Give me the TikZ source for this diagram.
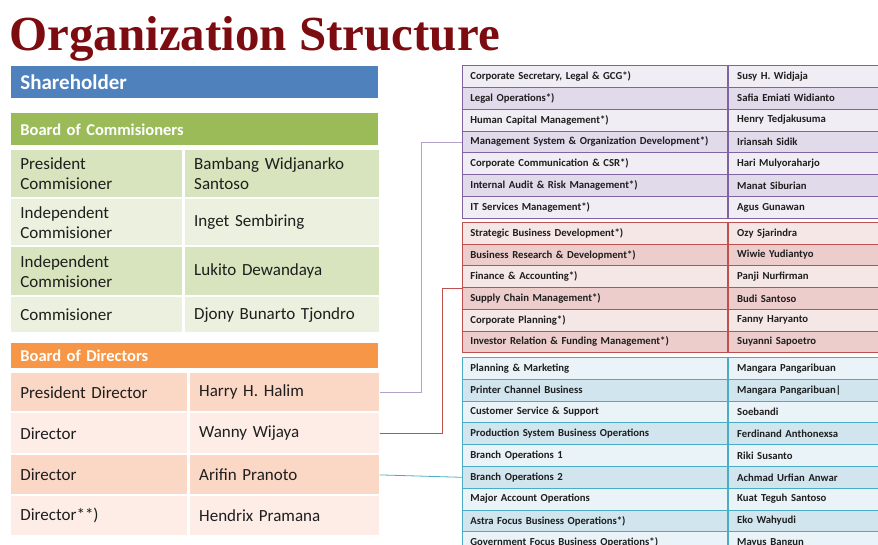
\documentclass[tikz,border=0pt]{standalone}
\usepackage{fontspec}
\setmainfont{Carlito}
\newfontfamily\titlefont{Liberation Serif}
\usetikzlibrary{positioning}

\definecolor{titlered}{RGB}{125,12,16}
\definecolor{shblue}{RGB}{79,129,189}
\definecolor{bocgreen}{RGB}{155,187,89}
\definecolor{bodorange}{RGB}{247,150,70}
\definecolor{grA}{RGB}{215,228,189}
\definecolor{grB}{RGB}{235,241,222}
\definecolor{orA}{RGB}{251,215,197}
\definecolor{orB}{RGB}{253,237,230}
\definecolor{puLine}{RGB}{128,100,162}
\definecolor{puA}{RGB}{240,237,245}
\definecolor{puB}{RGB}{224,218,234}
\definecolor{reLine}{RGB}{192,80,77}
\definecolor{reA}{RGB}{246,231,231}
\definecolor{reB}{RGB}{236,205,204}
\definecolor{blLine}{RGB}{75,172,198}
\definecolor{blA}{RGB}{234,243,247}
\definecolor{blB}{RGB}{208,229,238}
\definecolor{txtdark}{RGB}{30,30,30}

\tikzset{
  bar/.style={anchor=north west, minimum height=#1, inner xsep=9pt, inner ysep=0pt, align=left},
  rowtxt/.style={text=txtdark, font=\fontsize{17}{20}\selectfont},
  unitbox/.style={anchor=north west, minimum height=#1, inner xsep=8pt, inner ysep=0pt,
    text width=249pt, align=left, text=txtdark, font=\bfseries\fontsize{10.7}{12}\selectfont},
  headbox/.style={minimum height=#1, inner xsep=9pt, inner ysep=0pt,
    text width=135pt, align=left, text=txtdark, font=\bfseries\fontsize{10.7}{12}\selectfont},
}

\begin{document}
\begin{tikzpicture}[x=1pt, y=-1pt, line width=0.8pt]
\useasboundingbox (0,0) rectangle (878,544);
\clip (0,0) rectangle (878,544);

\node[anchor=base west, inner sep=0pt, text=titlered,
  font=\titlefont\bfseries\fontsize{49}{51}\selectfont] (title) at (9,50) {Organization Structure};

% shareholder and commisioners
\node[bar=32pt, fill=shblue, text width=349pt, text=white,
  font=\bfseries\fontsize{21}{24}\selectfont] (share) at (11,66) {Shareholder};
\node[bar=32pt, fill=bocgreen, text width=349pt, text=white,
  font=\bfseries\fontsize{16.5}{20}\selectfont] (boc) at (11,113) {Board of Commisioners};

\foreach \y/\h/\fc/\role/\who [count=\i] in {
  150/47/grA/{President\\Commisioner}/{Bambang Widjanarko\\Santoso},
  199/46/grB/{Independent\\Commisioner}/{Inget Sembiring},
  247/48/grA/{Independent\\Commisioner}/{Lukito Dewandaya},
  297/35/grB/{Commisioner}/{Djony Bunarto Tjondro}}{
  \node[bar=\h pt, rowtxt, fill=\fc, text width=153pt] (com\i) at (11,\y) {\role};
  \node[bar=\h pt, rowtxt, fill=\fc, text width=176pt, right=2pt of com\i] (comn\i) {\who};
}

% directors
\node[bar=25pt, fill=bodorange, text width=349pt, text=white,
  font=\bfseries\fontsize{16.5}{20}\selectfont] (bod) at (11,343) {Board of Directors};

\foreach \y/\h/\fc/\role/\who [count=\i] in {
  373/38/orA/{President Director}/{Harry H. Halim},
  413/40/orB/{Director}/{Wanny Wijaya},
  455/39/orA/{Director}/{Arifin Pranoto},
  496/39/orB/{Director**)}/{Hendrix Pramana}}{
  \node[bar=\h pt, rowtxt, fill=\fc, text width=158pt] (dir\i) at (11,\y) {\role};
  \node[bar=\h pt, rowtxt, fill=\fc, text width=171pt, right=2pt of dir\i] (dirn\i) {\who};
}

% first group
\foreach \unit/\who [count=\i] in {
  {Corporate Secretary, Legal \& GCG*)}/{Susy H. Widjaja},
  {Legal Operations*)}/{Safia Emiati Widianto},
  {Human Capital Management*)}/{Henry Tedjakusuma},
  {Management System \& Organization Development*)}/{Iriansah Sidik},
  {Corporate Communication \& CSR*)}/{Hari Mulyoraharjo},
  {Internal Audit \& Risk Management*)}/{Manat Siburian},
  {IT Services Management*)}/{Agus Gunawan}}{
  \ifodd\i \def\fc{puA}\else \def\fc{puB}\fi
  \node[unitbox=21.86pt, fill=\fc, draw=puLine] (pu\i) at (462,{65+(\i-1)*21.86}) {\unit};
  \node[headbox=21.86pt, fill=\fc, draw=puLine, right=0pt of pu\i] (puh\i) {\who};
}

% second group
\foreach \unit/\who [count=\i] in {
  {Strategic Business Development*)}/{Ozy Sjarindra},
  {Business Research \& Development*)}/{Wiwie Yudiantyo},
  {Finance \& Accounting*)}/{Panji Nurfirman},
  {Supply Chain Management*)}/{Budi Santoso},
  {Corporate Planning*)}/{Fanny Haryanto},
  {Investor Relation \& Funding Management*)}/{Suyanni Sapoetro}}{
  \ifodd\i \def\fc{reA}\else \def\fc{reB}\fi
  \node[unitbox=21.7pt, fill=\fc, draw=reLine] (re\i) at (462,{222+(\i-1)*21.7}) {\unit};
  \node[headbox=21.7pt, fill=\fc, draw=reLine, right=0pt of re\i] (reh\i) {\who};
}

% third group
\foreach \unit/\who [count=\i] in {
  {Planning \& Marketing}/{Mangara Pangaribuan},
  {Printer Channel Business}/{Mangara Pangaribuan|},
  {Customer Service \& Support}/{Soebandi},
  {Production System Business Operations}/{Ferdinand Anthonexsa},
  {Branch Operations 1}/{Riki Susanto},
  {Branch Operations 2}/{Achmad Urfian Anwar},
  {Major Account Operations}/{Kuat Teguh Santoso},
  {Astra Focus Business Operations*)}/{Eko Wahyudi},
  {Government Focus Business Operations*)}/{Mayus Bangun}}{
  \ifodd\i \def\fc{blA}\else \def\fc{blB}\fi
  \node[unitbox=21.8pt, fill=\fc, draw=blLine] (bl\i) at (462,{357+(\i-1)*21.8}) {\unit};
  \node[headbox=21.8pt, fill=\fc, draw=blLine, right=0pt of bl\i] (blh\i) {\who};
}

% links
\draw[puLine!60] (dirn1.east) -- ++(42,0) |- (pu4.west);
\draw[reLine] (dirn2.east) -- ++(63,0) |- (re3.south west);
\draw[blLine] (dirn3.east) -- (bl6.west);
\end{tikzpicture}
\end{document}
